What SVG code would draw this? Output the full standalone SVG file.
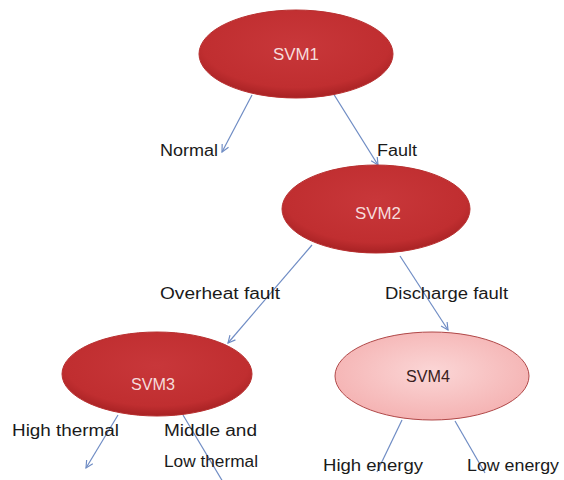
<svg xmlns="http://www.w3.org/2000/svg" width="564" height="480" viewBox="0 0 564 480">
<defs>
<radialGradient id="red" cx="50%" cy="40%" r="60%">
<stop offset="0" stop-color="#c8373a"/>
<stop offset="0.8" stop-color="#c02e30"/>
<stop offset="1" stop-color="#a82224"/>
</radialGradient>
<radialGradient id="pink" cx="50%" cy="45%" r="60%">
<stop offset="0" stop-color="#fbd6d6"/>
<stop offset="1" stop-color="#f4b0b0"/>
</radialGradient>
<marker id="arr" viewBox="0 0 10 10" refX="9" refY="5" markerWidth="9" markerHeight="9" orient="auto" markerUnits="userSpaceOnUse">
<path d="M1,1 L9,5 L1,9" fill="none" stroke="#6f8cc4" stroke-width="1.3"/>
</marker>
</defs>
<style>
.red{fill:url(#red);stroke:#b83030;stroke-width:1}
.pink{fill:url(#pink);stroke:#b04848;stroke-width:1}
.nt{font-family:"Liberation Sans",Arial,sans-serif;font-size:16px;text-anchor:middle}
.w{fill:#f6dcdc}
.d{fill:#3a2020}
.lbl{font-family:"Liberation Sans",Arial,sans-serif;font-size:16px;fill:#1a1a1a}
.c{stroke:#6f8cc4;stroke-width:1.2;fill:none}
</style>
<rect width="564" height="480" fill="#ffffff"/>
<g id="connectors">
<line class="c" x1="252" y1="95" x2="222" y2="152" marker-end="url(#arr)"/>
<line class="c" x1="333" y1="93" x2="378" y2="165" marker-end="url(#arr)"/>
<line class="c" x1="312" y1="245" x2="228" y2="343" marker-end="url(#arr)"/>
<line class="c" x1="400" y1="256" x2="448" y2="330" marker-end="url(#arr)"/>
<line class="c" x1="118" y1="415" x2="86" y2="468" marker-end="url(#arr)"/>
<line class="c" x1="183" y1="415" x2="223" y2="482"/>
<line class="c" x1="402" y1="420" x2="377" y2="472"/>
<line class="c" x1="455" y1="421" x2="485" y2="473"/>
</g>
<g id="svm1">
<ellipse class="red" cx="296" cy="54" rx="97" ry="44"/>
<text class="nt w" x="296" y="60" textLength="46" lengthAdjust="spacingAndGlyphs">SVM1</text>
</g>
<g id="svm2">
<ellipse class="red" cx="376" cy="209" rx="94" ry="44"/>
<text class="nt w" x="378" y="219" textLength="46" lengthAdjust="spacingAndGlyphs">SVM2</text>
</g>
<g id="svm3">
<ellipse class="red" cx="157" cy="374" rx="95" ry="42"/>
<text class="nt w" x="153" y="390" textLength="44" lengthAdjust="spacingAndGlyphs">SVM3</text>
</g>
<g id="svm4">
<ellipse class="pink" cx="432" cy="376" rx="97" ry="44"/>
<text class="nt d" x="428" y="382" textLength="44" lengthAdjust="spacingAndGlyphs">SVM4</text>
</g>
<g id="labels">
<text class="lbl" x="160" y="156" textLength="58" lengthAdjust="spacingAndGlyphs">Normal</text>
<text class="lbl" x="377" y="156" textLength="40" lengthAdjust="spacingAndGlyphs">Fault</text>
<text class="lbl" x="160" y="299" textLength="120" lengthAdjust="spacingAndGlyphs">Overheat fault</text>
<text class="lbl" x="385" y="299" textLength="123" lengthAdjust="spacingAndGlyphs">Discharge fault</text>
<text class="lbl" x="12" y="436" textLength="107" lengthAdjust="spacingAndGlyphs">High thermal</text>
<text class="lbl" x="164" y="436" textLength="93" lengthAdjust="spacingAndGlyphs">Middle and</text>
<text class="lbl" x="164" y="467" textLength="94" lengthAdjust="spacingAndGlyphs">Low thermal</text>
<text class="lbl" x="323" y="471" textLength="100" lengthAdjust="spacingAndGlyphs">High energy</text>
<text class="lbl" x="467" y="471" textLength="92" lengthAdjust="spacingAndGlyphs">Low energy</text>
</g>
</svg>
